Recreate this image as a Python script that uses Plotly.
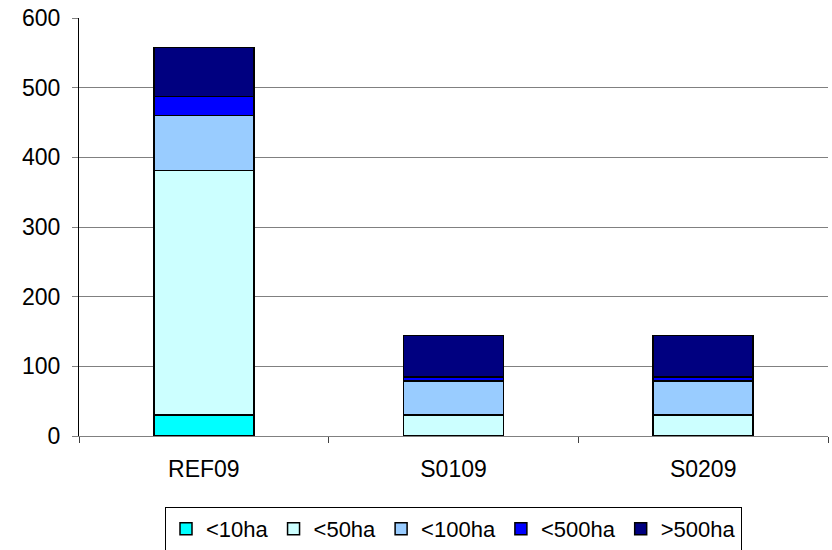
import plotly.graph_objects as go

# Farm size classes per scenario (stacked)
scenarios = ["REF09", "S0109", "S0209"]
size_classes = ["<10ha", "<50ha", "<100ha", "<500ha", ">500ha"]
values_lt10 = [30, 0, 0]
values_lt50 = [351, 30, 30]
values_lt100 = [79, 49, 49]
values_lt500 = [27, 6, 6]
values_gt500 = [71, 59, 59]
y_ticks = [0, 100, 200, 300, 400, 500, 600]

series = [values_lt10, values_lt50, values_lt100, values_lt500, values_gt500]
colors = ["#00FFFF", "#CCFFFF", "#99CCFF", "#0000FF", "#000080"]

FONT = "Liberation Sans, Arial, sans-serif"

fig = go.Figure()
for name, vals, col in zip(size_classes, series, colors):
    fig.add_trace(go.Bar(
        x=scenarios, y=vals, name=name,
        marker=dict(color=col, line=dict(color="#000000", width=1.5)),
        width=0.4,
    ))

fig.update_layout(
    barmode="stack",
    width=832, height=550,
    margin=dict(l=79, r=4, t=18, b=114, autoexpand=False),
    paper_bgcolor="white", plot_bgcolor="white",
    font=dict(family=FONT, size=22, color="#000000"),
    showlegend=True,
    legend=dict(
        orientation="h", traceorder="normal",
        x=0.5, xanchor="center", y=-0.170, yanchor="top",
        bordercolor="#000000", borderwidth=1, bgcolor="white",
        font=dict(family=FONT, size=22, color="#000000"),
        itemwidth=30,
    ),
    xaxis=dict(
        showgrid=False, showline=True, linecolor="#808080", linewidth=1,
        ticks="outside", tickson="boundaries", ticklen=6,
        tickcolor="#404040", tickwidth=1,
        tickfont=dict(family=FONT, size=23),
        ticklabelstandoff=12,
    ),
    yaxis=dict(
        range=[0, 600], tickvals=y_ticks,
        showgrid=True, gridcolor="#808080", gridwidth=1,
        zeroline=False, showline=True, linecolor="#000000", linewidth=1,
        ticks="outside", ticklen=6, tickcolor="#808080",
        tickfont=dict(family=FONT, size=23),
        ticklabelstandoff=7,
    ),
)

fig.write_html("out.html")
